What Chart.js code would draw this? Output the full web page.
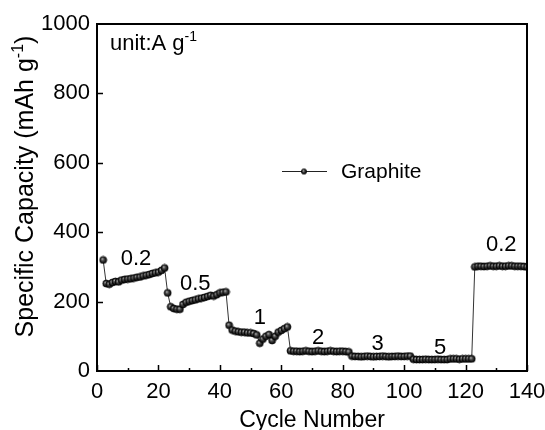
<!DOCTYPE html>
<html><head><meta charset="utf-8">
<script src="https://cdn.jsdelivr.net/npm/chart.js@4/dist/chart.umd.min.js"></script>
<style>html,body{margin:0;padding:0;background:#fff}#wrap{width:545px;height:430px;position:relative}</style>
</head><body><div id="wrap"><canvas id="c" width="545" height="430"></canvas></div>
<script>
// ---- data ----
const firstCycle = 2;
const rate02a = [320, 252, 250, 255, 258, 257, 262, 264, 265, 266, 268, 270, 271, 274, 276, 278, 281, 283, 285, 290, 297];
const rate05  = [225, 185, 180, 178, 178, 192, 198, 201, 203, 205, 208, 210, 212, 215, 218, 216, 220, 225, 227, 228];
const rate1   = [132, 118, 115, 113, 112, 112, 110, 110, 108, 104, 80, 92, 100, 105, 88, 100, 112, 117, 122, 127];
const rate2   = [58, 57, 57, 56, 57, 58, 57, 56, 57, 58, 57, 56, 57, 58, 57, 56, 57, 57, 56, 55];
const rate3   = [43, 42, 42, 41, 42, 43, 42, 41, 42, 42, 43, 42, 41, 42, 42, 43, 42, 42, 43, 43];
const rate5   = [34, 33, 33, 33, 34, 33, 33, 33, 34, 33, 33, 33, 35, 35, 35, 34, 35, 35, 35, 35];
const rate02b = [300, 302, 302, 301, 302, 303, 302, 302, 303, 302, 302, 303, 303, 302, 302, 302, 301, 300];
const rateLabels = ['0.2', '0.5', '1', '2', '3', '5', '0.2'];
const xTickValues = [0, 20, 40, 60, 80, 100, 120, 140];
const yTickValues = [0, 200, 400, 600, 800, 1000];
const seriesName = 'Graphite';

// label anchors in data coordinates (cycle, capacity)
const rateLabelAnchors = [[12.7, 323], [32, 251], [53, 153], [72, 96], [91.4, 79], [111.7, 66], [131.6, 363]];

const capacity = [].concat(rate02a, rate05, rate1, rate2, rate3, rate5, rate02b);
const points = capacity.map((v, i) => ({x: firstCycle + i, y: v}));

function makeBall(r) {
  const s = Math.ceil(2 * r + 2);
  const c = document.createElement('canvas');
  c.width = c.height = s;
  const g = c.getContext('2d');
  const cx = s / 2;
  const grad = g.createRadialGradient(cx - r * 0.3, cx - r * 0.35, 0.2, cx, cx, r);
  grad.addColorStop(0, '#b8b8b8');
  grad.addColorStop(0.4, '#4a4a4a');
  grad.addColorStop(1, '#000');
  g.fillStyle = grad;
  g.beginPath(); g.arc(cx, cx, r, 0, Math.PI * 2); g.fill();
  g.strokeStyle = '#000'; g.lineWidth = 0.8; g.stroke();
  return c;
}
const ball = makeBall(3.5);
const smallBall = makeBall(2.6);

const FONT = 'Arial, "Liberation Sans", sans-serif';

function drawSupText(ctx, parts, x, y, align) {
  let total = 0;
  parts.forEach(p => { ctx.font = p[1] + 'px ' + FONT; total += ctx.measureText(p[0]).width; });
  let cx = align === 'center' ? x - total / 2 : x;
  ctx.textAlign = 'left';
  parts.forEach(p => {
    ctx.font = p[1] + 'px ' + FONT;
    ctx.fillText(p[0], cx, y - p[2]);
    cx += ctx.measureText(p[0]).width;
  });
}

const decor = {
  id: 'decor',
  afterDraw(chart) {
    const ctx = chart.ctx;
    const a = chart.chartArea;
    const xs = chart.scales.x, ys = chart.scales.y;
    ctx.save();
    ctx.strokeStyle = '#000';
    ctx.lineWidth = 2;
    ctx.beginPath();
    ctx.moveTo(a.left - 1, a.top); ctx.lineTo(a.right, a.top); ctx.lineTo(a.right, a.bottom + 1);
    ctx.stroke();
    ctx.lineWidth = 1.5;
    ctx.beginPath();
    for (let v = 0; v <= 140; v += 10) {
      const px = Math.round(xs.getPixelForValue(v)) + 0.5;
      const len = v % 20 === 0 ? 6 : 3;
      ctx.moveTo(px, a.bottom); ctx.lineTo(px, a.bottom - len);
    }
    for (let v = 200; v < 1000; v += 200) {
      const py = Math.round(ys.getPixelForValue(v)) + 0.5;
      ctx.moveTo(a.left, py); ctx.lineTo(a.left + 6, py);
    }
    ctx.stroke();

    ctx.fillStyle = '#000';
    ctx.textBaseline = 'alphabetic';
    ctx.save();
    ctx.translate(33, (a.top + a.bottom) / 2 - 11);
    ctx.rotate(-Math.PI / 2);
    drawSupText(ctx, [['Specific Capacity (mAh g', 25, 0], ['-1', 16, 10], [')', 25, 0]], 0, 0, 'center');
    ctx.restore();
    drawSupText(ctx, [['unit:A g', 22, 0], ['-1', 14, 9]], 110, 50, 'left');

    ctx.lineWidth = 1;
    ctx.strokeStyle = '#222';
    ctx.beginPath(); ctx.moveTo(282, 171.5); ctx.lineTo(327, 171.5); ctx.stroke();
    ctx.drawImage(smallBall, 304 - smallBall.width / 2, 171.5 - smallBall.height / 2);
    ctx.font = '21px ' + FONT;
    ctx.textAlign = 'left';
    ctx.textBaseline = 'middle';
    ctx.fillText(seriesName, 341, 172);

    ctx.font = '22px ' + FONT;
    ctx.textAlign = 'center';
    rateLabels.forEach((t, i) => {
      const [cx, cy] = rateLabelAnchors[i];
      ctx.fillText(t, xs.getPixelForValue(cx), ys.getPixelForValue(cy));
    });
    ctx.restore();
  }
};

new Chart(document.getElementById('c'), {
  type: 'line',
  data: {
    datasets: [{
      label: seriesName,
      data: points,
      borderColor: '#333',
      borderWidth: 1,
      pointStyle: ball,
      pointRadius: 3.5,
      tension: 0
    }]
  },
  options: {
    responsive: false,
    animation: false,
    events: [],
    layout: {padding: {top: 24, right: 18, left: 0, bottom: 0}},
    plugins: {legend: {display: false}, tooltip: {enabled: false}},
    scales: {
      x: {
        type: 'linear', min: 0, max: 140,
        afterBuildTicks: s => { s.ticks = xTickValues.map(v => ({value: v})); },
        ticks: {color: '#000', font: {size: 22, family: FONT}, padding: 8, maxRotation: 0, autoSkip: false,
                callback: v => String(v)},
        grid: {display: false, drawTicks: false},
        border: {display: true, color: '#000', width: 2},
        title: {display: true, text: 'Cycle Number', color: '#000', font: {size: 23, family: FONT}, padding: {top: 0, bottom: -4}},
        afterFit: s => { s.height = 59; s.paddingLeft = 0; s.paddingRight = 0; }
      },
      y: {
        type: 'linear', min: 0, max: 1000,
        afterBuildTicks: s => { s.ticks = yTickValues.map(v => ({value: v})); },
        ticks: {color: '#000', font: {size: 22, family: FONT}, padding: 7, callback: v => String(v)},
        grid: {display: false, drawTicks: false},
        border: {display: true, color: '#000', width: 2},
        afterFit: s => { s.width = 97; s.paddingTop = 0; s.paddingBottom = 0; }
      }
    }
  },
  plugins: [decor]
});
</script>
</body></html>
